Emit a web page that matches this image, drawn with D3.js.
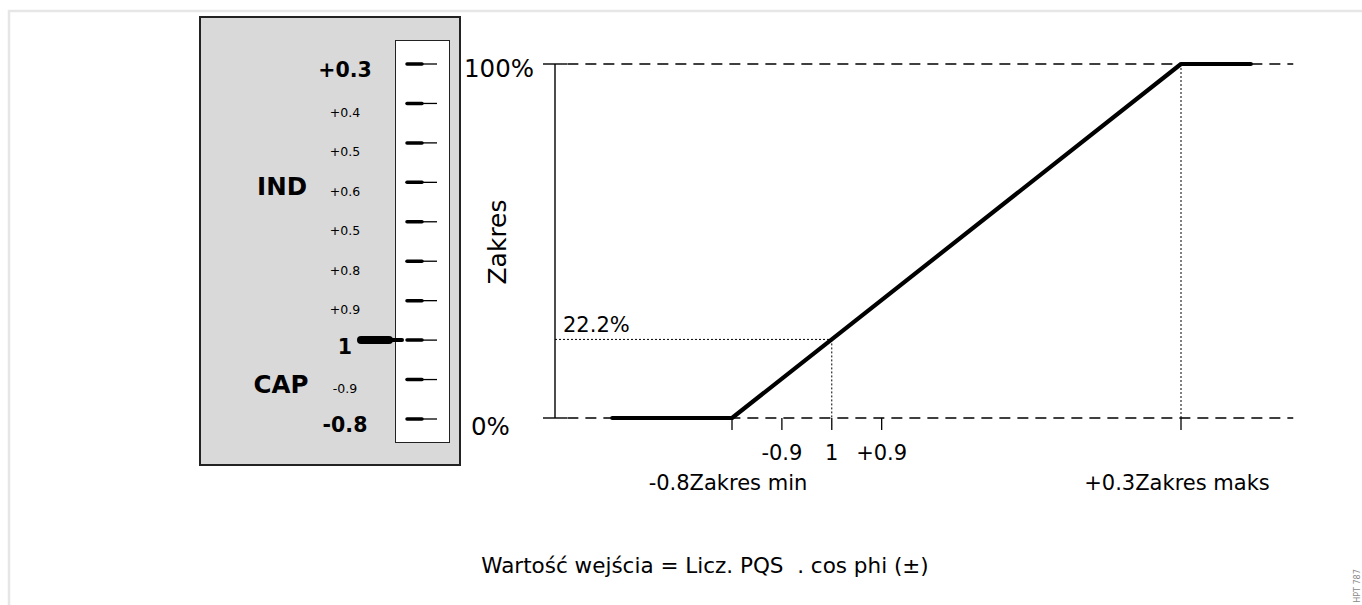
<!DOCTYPE html>
<html>
<head>
<meta charset="utf-8">
<script src="https://cdn.jsdelivr.net/npm/d3@7"></script>
<style>
  html, body { margin: 0; padding: 0; background: #fff; }
  svg { display: block; font-family: "DejaVu Sans", sans-serif; }
  text { white-space: pre; }
</style>
</head>
<body>
<svg id="chart" width="1362" height="605"></svg>
<script>
// ---- data ----
const dialLabels = ["+0.3", "+0.4", "+0.5", "+0.6", "+0.5", "+0.8", "+0.9", "1", "-0.9", "-0.8"];
const dialBold = [true, false, false, false, false, false, false, true, false, true];
const dialPointerIndex = 7;
const sideLabels = ["IND", "CAP"];

const xTickValues = [-0.2, -0.1, 0, 0.1, 0.7];
const xTickLabels = ["-0.8Zakres min", "-0.9", "1", "+0.9", "+0.3Zakres maks"];
const xTickRow = [1, 0, 0, 0, 1];
const yTickValues = [0, 100];
const yTickLabels = ["0%", "100%"];

const curveX = [-0.44, -0.2, 0.7, 0.84];
const curveY = [0, 0, 100, 100];
const markerX = 0;
const markerY = 22.2;
const markerLabel = "22.2%";
const gridExtent = [-0.53, 0.925];

const yTitle = "Zakres";
const caption = "Wartość wejścia = Licz. PQS  . cos phi (±)";
const stamp = "HPT 787";

// ---- drawing ----
const svg = d3.select("#chart");

// page frame
svg.append("path")
  .attr("d", "M9,605 L9,11 L1362,11")
  .attr("fill", "none").attr("stroke", "#e6e6e6").attr("stroke-width", 2.5);

// left panel
svg.append("rect").attr("x", 200).attr("y", 17).attr("width", 260).attr("height", 448)
  .attr("fill", "#d9d9d9").attr("stroke", "#222").attr("stroke-width", 2);
svg.append("rect").attr("x", 395.5).attr("y", 40.5).attr("width", 54).attr("height", 402)
  .attr("fill", "#fff").attr("stroke", "#222").attr("stroke-width", 1);

const dialY = d3.scalePoint().domain(d3.range(dialLabels.length)).range([64, 419]);

const dial = svg.append("g");
dialLabels.forEach((lab, i) => {
  const y = dialY(i);
  dial.append("line").attr("x1", 423).attr("x2", 437).attr("y1", y).attr("y2", y)
    .attr("stroke", "#000").attr("stroke-width", 1.3);
  dial.append("line").attr("x1", 407).attr("x2", 422).attr("y1", y).attr("y2", y)
    .attr("stroke", "#000").attr("stroke-width", 3.5).attr("stroke-linecap", "round");
  const bold = dialBold[i];
  dial.append("text").attr("x", 345).attr("y", y + (bold ? 13 : 13.5) + (i === dialPointerIndex ? 1 : 0))
    .attr("text-anchor", "middle")
    .attr("font-size", bold ? 20.5 : 12.5)
    .attr("font-weight", bold ? "bold" : "normal")
    .attr("fill", "#000")
    .text(lab);
});
// pointer
const py = dialY(dialPointerIndex);
dial.append("line").attr("x1", 389).attr("x2", 402).attr("y1", py).attr("y2", py)
  .attr("stroke", "#000").attr("stroke-width", 4).attr("stroke-linecap", "round");
dial.append("line").attr("x1", 361).attr("x2", 389).attr("y1", py).attr("y2", py)
  .attr("stroke", "#000").attr("stroke-width", 8).attr("stroke-linecap", "round");

dial.append("text").attr("x", 282).attr("y", 195).attr("text-anchor", "middle")
  .attr("font-size", 24.5).attr("font-weight", "bold").text(sideLabels[0]);
dial.append("text").attr("x", 281).attr("y", 393).attr("text-anchor", "middle")
  .attr("font-size", 24.5).attr("font-weight", "bold").text(sideLabels[1]);

// chart
const x = d3.scaleLinear().domain([-0.2, 0.7]).range([732, 1181]);
const y = d3.scaleLinear().domain([0, 100]).range([418, 64]);
const axisX = 555;

// dashed reference lines
yTickValues.forEach(v => {
  svg.append("line").attr("x1", x(gridExtent[0])).attr("x2", x(gridExtent[1]))
    .attr("y1", y(v)).attr("y2", y(v))
    .attr("stroke", "#000").attr("stroke-width", 1.5).attr("stroke-dasharray", "11,7");
});

// y axis
svg.append("line").attr("x1", axisX).attr("x2", axisX).attr("y1", y(0)).attr("y2", y(100))
  .attr("stroke", "#000").attr("stroke-width", 1.4);
yTickValues.forEach((v, i) => {
  svg.append("line").attr("x1", axisX - 12).attr("x2", axisX + 12).attr("y1", y(v)).attr("y2", y(v))
    .attr("stroke", "#000").attr("stroke-width", 1.4);
});
svg.append("text").attr("x", 471).attr("y", y(0) + 17).attr("text-anchor", "start")
  .attr("font-size", 24.5).text(yTickLabels[0]);
svg.append("text").attr("x", 534).attr("y", y(100) + 13).attr("text-anchor", "end")
  .attr("font-size", 24.5).text(yTickLabels[1]);
svg.append("text").attr("transform", `translate(506,242) rotate(-90)`)
  .attr("text-anchor", "middle").attr("font-size", 25).text(yTitle);

// x ticks
xTickValues.forEach((v, i) => {
  svg.append("line").attr("x1", x(v)).attr("x2", x(v)).attr("y1", y(0)).attr("y2", y(0) + 12)
    .attr("stroke", "#000").attr("stroke-width", 1.3);
  const dx = xTickRow[i] ? -4 : 0;
  svg.append("text").attr("x", x(v) + dx).attr("y", xTickRow[i] ? 490 : 460)
    .attr("text-anchor", "middle").attr("font-size", 21).text(xTickLabels[i]);
});

// dotted guides
svg.append("line").attr("x1", axisX).attr("x2", x(markerX)).attr("y1", y(markerY)).attr("y2", y(markerY))
  .attr("stroke", "#000").attr("stroke-width", 1).attr("stroke-dasharray", "2,2");
svg.append("line").attr("x1", x(markerX)).attr("x2", x(markerX)).attr("y1", y(markerY)).attr("y2", y(0))
  .attr("stroke", "#000").attr("stroke-width", 1).attr("stroke-dasharray", "2,2");
svg.append("line").attr("x1", x(curveX[2])).attr("x2", x(curveX[2])).attr("y1", y(100)).attr("y2", y(0))
  .attr("stroke", "#000").attr("stroke-width", 1).attr("stroke-dasharray", "2,2");
svg.append("text").attr("x", 563).attr("y", y(markerY) - 7).attr("font-size", 21).text(markerLabel);

// curve
const line = d3.line().x(d => x(d[0])).y(d => y(d[1]));
svg.append("path").datum(curveX.map((v, i) => [v, curveY[i]]))
  .attr("d", line).attr("fill", "none").attr("stroke", "#000").attr("stroke-width", 4.2)
  .attr("stroke-linecap", "round").attr("stroke-linejoin", "round");

// caption
svg.append("text").attr("x", 705).attr("y", 573).attr("text-anchor", "middle")
  .attr("font-size", 21.5).text(caption);

// stamp
svg.append("text").attr("transform", "translate(1360,586) rotate(-90)")
  .attr("text-anchor", "middle").attr("font-size", 8).attr("fill", "#888").text(stamp);
</script>
</body>
</html>
